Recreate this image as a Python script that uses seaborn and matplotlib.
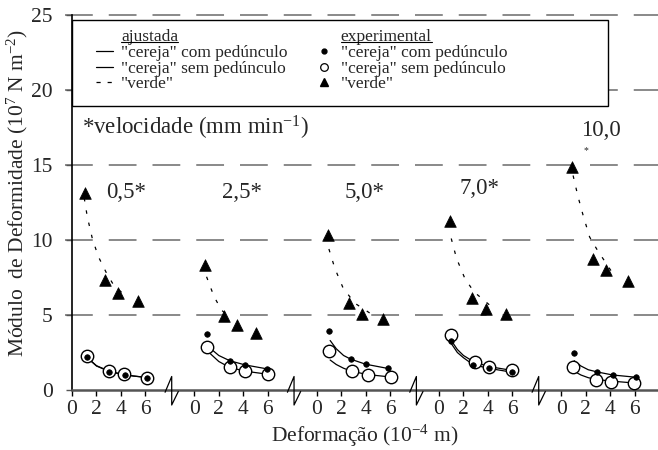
import matplotlib
matplotlib.use("Agg")
import matplotlib.pyplot as plt
import numpy as np
import pandas as pd
import seaborn as sns
from matplotlib.lines import Line2D
from matplotlib.patches import Rectangle

# ---------------- data ----------------
offsets = [0, 10, 20, 30, 40]
speed_labels = ["0,5*", "2,5*", "5,0*", "7,0*", "10,0"]
label_dx = [4.45, 3.87, 3.9, 3.3, 3.27]
label_y = [13.2, 13.2, 13.2, 13.4, 17.3]
tick_values = [0, 2, 4, 6]

# experimental points: "cereja" com pedúnculo (filled dots)
com_x = [[1.25, 3.05, 4.33, 6.15], [1.06, 2.90, 4.16, 5.96], [1.00, 2.80, 4.04, 5.80],
         [0.99, 2.79, 4.07, 5.97], [1.04, 2.95, 4.22, 6.08]]
com_y = [[2.22, 1.22, 1.00, 0.82], [3.73, 1.93, 1.67, 1.40], [3.96, 2.04, 1.71, 1.44],
         [3.29, 1.64, 1.44, 1.18], [2.49, 1.20, 0.98, 0.84]]
# "cereja" sem pedúnculo (open circles)
sem_x = [[1.20, 3.05, 4.27, 6.10], [1.03, 2.90, 4.16, 6.00], [1.02, 2.86, 4.16, 6.04],
         [1.02, 2.92, 4.09, 6.00], [0.99, 2.87, 4.03, 5.93]]
sem_y = [[2.29, 1.27, 1.07, 0.82], [2.87, 1.51, 1.24, 1.07], [2.60, 1.24, 1.02, 0.87],
         [3.67, 1.84, 1.56, 1.33], [1.56, 0.67, 0.56, 0.44]]
# "verde" (triangles)
verde_x = [[1.06, 2.70, 3.80, 5.40], [0.86, 2.39, 3.45, 5.00], [0.89, 2.63, 3.70, 5.43],
           [0.91, 2.66, 3.80, 5.51], [0.87, 2.59, 3.68, 5.45]]
verde_y = [[13.15, 7.33, 6.44, 5.93], [8.31, 4.93, 4.33, 3.80], [10.33, 5.82, 5.04, 4.73],
           [11.29, 6.11, 5.38, 5.09], [14.84, 8.71, 8.00, 7.29]]

# fitted curves (ajustada)
fit_com_x = [[1.25, 2.0, 3.0, 4.0, 5.0, 6.1], [1.2, 2.0, 2.9, 4.16, 6.0], [1.1, 1.6, 2.2, 2.8, 4.0, 5.8],
             [1.0, 1.5, 2.0, 2.8, 4.1, 6.0], [1.05, 1.6, 2.2, 2.95, 4.2, 6.1]]
fit_com_y = [[2.15, 1.6, 1.25, 1.05, 0.93, 0.84], [2.85, 2.3, 1.95, 1.67, 1.4], [3.3, 2.75, 2.3, 2.05, 1.72, 1.44],
             [3.1, 2.5, 2.15, 1.68, 1.44, 1.18], [1.95, 1.6, 1.35, 1.2, 1.0, 0.85]]
fit_sem_x = [[1.2, 2.0, 3.0, 4.0, 5.0, 6.1], [1.2, 2.0, 2.9, 4.2, 6.0], [1.1, 1.6, 2.2, 2.86, 4.16, 6.0],
             [1.0, 1.5, 2.0, 2.9, 4.1, 6.0], [1.05, 1.6, 2.2, 2.9, 4.0, 5.9]]
fit_sem_y = [[2.2, 1.62, 1.27, 1.07, 0.94, 0.83], [2.5, 1.9, 1.5, 1.25, 1.05], [2.0, 1.7, 1.45, 1.25, 1.03, 0.87],
             [3.3, 2.7, 2.3, 1.85, 1.56, 1.3], [1.25, 1.0, 0.82, 0.7, 0.6, 0.47]]
fit_verde_x = [[1.0, 1.25, 1.66, 2.15, 2.83, 3.4, 4.2], [1.0, 1.6, 2.2, 2.9], [1.0, 1.49, 2.17, 3.13, 4.4],
               [1.0, 1.43, 2.11, 2.85, 4.3], [0.96, 1.36, 1.77, 2.31, 2.94, 4.2]]
fit_verde_y = [[12.8, 11.55, 10.1, 8.9, 7.78, 7.0, 6.4], [7.55, 6.25, 5.35, 4.8], [9.4, 8.1, 6.78, 5.78, 5.1],
               [10.1, 8.78, 7.44, 6.55, 5.55], [14.3, 12.9, 11.67, 10.2, 9.33, 7.78]]

grid_levels = [5, 10, 15, 20, 25]


def to_frame(xs, ys):
    rows = []
    for p, (xx, yy) in enumerate(zip(xs, ys)):
        for a, b in zip(xx, yy):
            rows.append({"panel": p, "x": offsets[p] + a, "y": b})
    return pd.DataFrame(rows)


df_com = to_frame(com_x, com_y)
df_sem = to_frame(sem_x, sem_y)
df_verde = to_frame(verde_x, verde_y)
df_fcom = to_frame(fit_com_x, fit_com_y)
df_fsem = to_frame(fit_sem_x, fit_sem_y)
df_fverde = to_frame(fit_verde_x, fit_verde_y)

# ---------------- style ----------------
sns.set_theme(style="white")
plt.rcParams["font.family"] = ["Liberation Serif", "DejaVu Serif"]
plt.rcParams["mathtext.fontset"] = "custom"
plt.rcParams["mathtext.rm"] = "Liberation Serif"
plt.rcParams["mathtext.it"] = "Liberation Serif:italic"
plt.rcParams["mathtext.bf"] = "Liberation Serif:bold"
plt.rcParams["lines.scale_dashes"] = False

fig = plt.figure(figsize=(6.58, 4.5), dpi=100)
ax = fig.add_axes([72 / 658, 60 / 450, 586 / 658, 375 / 450])
ax.set_xlim(0, 47.9)
ax.set_ylim(0, 25)

# dashed horizontal grid
for g in grid_levels:
    ax.plot([-0.012, 1.0], [g, g], transform=ax.get_yaxis_transform(), color="#808080",
            lw=1.3, dashes=(20, 11.5), clip_on=False, zorder=0.5)

# fitted curves
sns.lineplot(data=df_fcom, x="x", y="y", units="panel", estimator=None, sort=False,
             color="black", lw=0.9, legend=False, ax=ax)
sns.lineplot(data=df_fsem, x="x", y="y", units="panel", estimator=None, sort=False,
             color="black", lw=0.9, legend=False, ax=ax)
n_before = len(ax.lines)
sns.lineplot(data=df_fverde, x="x", y="y", units="panel", estimator=None, sort=False,
             color="black", lw=0.9, legend=False, ax=ax)
for ln in ax.lines[n_before:]:
    ln.set_dashes((2.5, 6.5))

# experimental points
sns.scatterplot(data=df_sem, x="x", y="y", marker="o", s=80, color="white",
                edgecolor="black", linewidth=1.0, legend=False, ax=ax, zorder=3)
sns.scatterplot(data=df_com, x="x", y="y", marker="o", s=16, color="black",
                edgecolor="black", linewidth=0.5, legend=False, ax=ax, zorder=4)
sns.scatterplot(data=df_verde, x="x", y="y", marker="^", s=70, color="black",
                edgecolor="black", linewidth=0.5, legend=False, ax=ax, zorder=4)

# axes decoration
for s in ["top", "right"]:
    ax.spines[s].set_visible(False)
ax.spines["left"].set_color("black")
ax.spines["left"].set_linewidth(1.2)
ax.spines["bottom"].set_color("#555555")
ax.spines["bottom"].set_linewidth(1.8)

xt = [o + t for o in offsets for t in tick_values]
ax.set_xticks(xt)
ax.set_xticklabels([str(t) for o in offsets for t in tick_values])
ax.set_yticks([0, 5, 10, 15, 20, 25])
ax.tick_params(axis="x", direction="out", length=4, width=1.0, color="black",
               labelsize=15.5, pad=3, bottom=True)
ax.tick_params(axis="y", direction="out", length=4, width=1.0, color="#555555",
               labelsize=15.5, pad=10, left=True)

ax.set_xlabel("Deformação (10$^{-4}$ m)", fontsize=15.5)
ax.set_ylabel("Módulo  de Deformidade (10$^{7}$ N m$^{-2}$)", fontsize=15.5)
ax.xaxis.set_label_coords(0.5, -0.088)
ax.yaxis.set_label_coords(-0.072, 0.525)

# axis break marks between panels
for o in offsets[:-1]:
    c = o + 8.15
    ax.plot([c - 0.54, c, c, c + 0.54], [-0.15, 0.9, -1.0, -0.1], color="black",
            lw=0.9, clip_on=False, zorder=5)

# panel speed labels
for o, lab, dx, ly in zip(offsets, speed_labels, label_dx, label_y):
    ax.text(o + dx, ly, lab, fontsize=16.5, ha="center", va="center")
ax.text(42.0, 15.95, "*", fontsize=7, ha="center", va="center")
ax.text(0.8, 17.45, "*velocidade (mm min$^{-1}$)", fontsize=16.5, ha="left", va="center")

# legend box
ax.add_patch(Rectangle((0, (390 - 106) / 375), 536 / 586, 86 / 375, transform=ax.transAxes,
                       facecolor="white", edgecolor="black", lw=1.0, zorder=6, clip_on=False))

blank = Line2D([], [], color="none")
handles = [
    blank,
    Line2D([], [], color="black", lw=0.9),
    Line2D([], [], color="black", lw=0.9),
    Line2D([], [], color="black", lw=0.9, dashes=(3, 5)),
    blank,
    Line2D([], [], ls="none", marker="o", ms=3.5, color="black"),
    Line2D([], [], ls="none", marker="o", ms=5.5, mfc="white", mec="black", mew=0.9),
    Line2D([], [], ls="none", marker="^", ms=6.0, color="black"),
]
labels = ["ajustada", '"cereja" com pedúnculo', '"cereja" sem pedúnculo', '"verde"',
          "experimental", '"cereja" com pedúnculo', '"cereja" sem pedúnculo', '"verde"']
leg = ax.legend(handles, labels, ncol=2, loc="upper left", bbox_to_anchor=(0.041, 0.962),
                frameon=False, borderpad=0, borderaxespad=0, fontsize=12.5,
                handlelength=1.0, handletextpad=0.45, labelspacing=-0.03, columnspacing=1.6)
leg.set_zorder(7)

fig.canvas.draw()
renderer = fig.canvas.get_renderer()
inv = fig.transFigure.inverted()
for t in [leg.get_texts()[0], leg.get_texts()[4]]:
    bb = t.get_window_extent(renderer)
    (x0, y0) = inv.transform((bb.x0, bb.y0 + 3.0))
    (x1, _) = inv.transform((bb.x1, bb.y0 + 3.0))
    fig.add_artist(Line2D([x0, x1], [y0, y0], color="black", lw=0.8, zorder=8))

fig.savefig("out.png", dpi=100)
